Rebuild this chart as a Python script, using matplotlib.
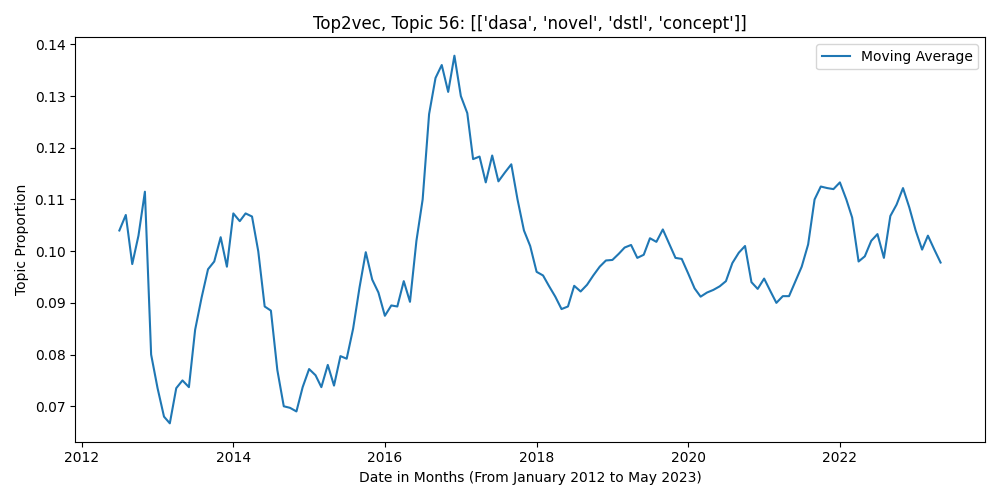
import matplotlib
matplotlib.use("Agg")
import matplotlib.pyplot as plt
import pandas as pd

start = "2012-07-01"
values = [
0.104,0.107,0.0975,0.103,0.1115,0.080,
0.0735,0.068,0.0667,0.0735,0.075,0.0737,0.0848,0.091,0.0965,0.098,0.1027,0.097,
0.1073,0.1058,0.1073,0.1067,0.100,0.0893,0.0885,0.077,0.070,0.0697,0.069,0.0737,
0.0772,0.076,0.0737,0.078,0.074,0.0797,0.0792,0.085,0.093,0.0998,0.0945,0.092,
0.0875,0.0895,0.0893,0.0942,0.0902,0.102,0.110,0.1265,0.1335,0.136,0.1308,0.1378,
0.130,0.1267,0.1178,0.1183,0.1133,0.1185,0.1135,0.1152,0.1168,0.110,0.104,0.101,
0.096,0.0953,0.0933,0.0912,0.0888,0.0893,0.0933,0.0922,0.0935,0.0953,0.097,0.0982,
0.0983,0.0995,0.1007,0.1012,0.0987,0.0993,0.1025,0.1018,0.1042,0.1015,0.0987,0.0985,
0.0957,0.0928,0.0912,0.092,0.0925,0.0932,0.0942,0.0977,0.0997,0.101,0.094,0.0927,
0.0947,0.0922,0.090,0.0913,0.0913,0.0942,0.097,0.1013,0.110,0.1125,0.1122,0.112,
0.1133,0.110,0.1065,0.098,0.099,0.102,0.1033,0.0987,0.1068,0.109,0.1122,0.1085,
0.104,0.1003,0.103,0.1003,0.0978]
dates = pd.date_range(start, periods=len(values), freq="MS")

fig, ax = plt.subplots(figsize=(10, 5), dpi=100)
ax.plot(dates, values, color="#1f77b4", label="Moving Average")
ax.set_title("Top2vec, Topic 56: [['dasa', 'novel', 'dstl', 'concept']]")
ax.set_xlabel("Date in Months (From January 2012 to May 2023)")
ax.set_ylabel("Topic Proportion")
ax.set_xlim(pd.Timestamp("2011-12-01"), pd.Timestamp("2023-12-01"))
ax.legend(loc="upper right")
fig.tight_layout()
fig.savefig("out.png")
